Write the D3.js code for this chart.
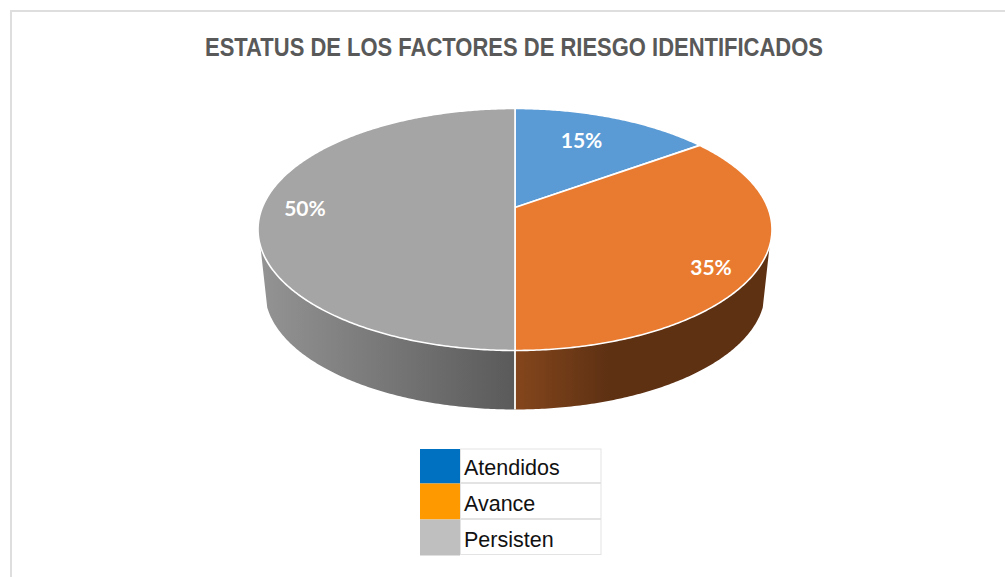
<!DOCTYPE html>
<html>
<head>
<meta charset="utf-8">
<script src="https://cdnjs.cloudflare.com/ajax/libs/d3/7.8.5/d3.min.js"></script>
<style>html,body{margin:0;padding:0;background:#fff}svg{display:block}</style>
</head>
<body>
<script>
// Data
const chartTitle = "ESTATUS DE LOS FACTORES DE RIESGO IDENTIFICADOS";
const categories = ["Atendidos", "Avance", "Persisten"];
const shares = [15, 35, 50];
const topColors = ["#5b9bd5", "#e97b30", "#a5a5a5"];
const legendColors = ["#0070c0", "#ff9900", "#bfbfbf"];

// Layout
const W = 1005, H = 577;
const svg = d3.select("body").append("svg").attr("width", W).attr("height", H);
const apex = {x: 515, y: 207.5};
const persp = 0.1818, ax = 252.7, ay = 117;
const ellipseMidY = 230, depthMidY = 292, rimScaleX = 0.973, rimScaleY = 0.975;

// Perspective projection of a unit-disc point (angle clockwise from 12 o'clock)
function project(theta, r = 1) {
  const x = r * Math.sin(theta), y = r * Math.cos(theta), d = 1 + persp * y;
  return [apex.x + ax * x / d, apex.y - ay * y / d];
}
function lowerRim(theta) {
  const [x, y] = project(theta);
  return [apex.x + (x - apex.x) * rimScaleX, depthMidY + (y - ellipseMidY) * rimScaleY];
}
function angles(a0, a1) {
  const n = Math.max(2, Math.ceil(Math.abs(a1 - a0) / 0.01));
  return d3.range(n + 1).map(i => a0 + (a1 - a0) * i / n);
}
const lineGen = d3.line();
const arcs = d3.pie().sort(null).value(d => d)(shares);

// Frame
svg.append("path").attr("d", d3.line()([[11, H], [11, 11], [W, 11]]))
  .attr("fill", "none").attr("stroke", "#dedede").attr("stroke-width", 2);

// Title
svg.append("text").attr("x", 514).attr("y", 56)
  .attr("text-anchor", "middle")
  .attr("font-family", "'Liberation Sans', Arial, sans-serif")
  .attr("font-weight", "700").attr("font-size", 26)
  .attr("textLength", 618).attr("lengthAdjust", "spacingAndGlyphs")
  .attr("fill", "#595959").text(chartTitle);

// Gradients for the side wall
const defs = svg.append("defs");
function gradient(id, x1, x2, stops) {
  const g = defs.append("linearGradient").attr("id", id)
    .attr("gradientUnits", "userSpaceOnUse")
    .attr("x1", x1).attr("x2", x2).attr("y1", 0).attr("y2", 0);
  stops.forEach(s => g.append("stop").attr("offset", s[0]).attr("stop-color", s[1]));
}
gradient("wallOrange", 515, 775, [[0, "#84461c"], [0.36, "#5e3113"], [1, "#5e3113"]]);
gradient("wallGray", 258, 515, [[0, "#949494"], [1, "#5a5a5a"]]);

// Side wall
const wallLimit = 108 * Math.PI / 180;
const wallSegments = [
  {i: 1, from: wallLimit, to: arcs[1].endAngle, fill: "url(#wallOrange)"},
  {i: 2, from: arcs[2].startAngle, to: 2 * Math.PI - wallLimit, fill: "url(#wallGray)"}
];
svg.append("g").selectAll("path").data(wallSegments).join("path")
  .attr("d", d => {
    const a = angles(d.from, d.to);
    return lineGen(a.map(t => project(t)).concat(a.slice().reverse().map(lowerRim))) + "Z";
  })
  .attr("fill", d => d.fill);
svg.append("path")
  .attr("d", lineGen([project(arcs[1].endAngle), lowerRim(arcs[1].endAngle)]))
  .attr("stroke", "#fff").attr("stroke-width", 1.8).attr("fill", "none");

// Top face slices
svg.append("g").selectAll("path").data(arcs).join("path")
  .attr("d", d => lineGen([[apex.x, apex.y]].concat(angles(d.startAngle, d.endAngle).map(t => project(t)))) + "Z")
  .attr("fill", (d, i) => topColors[i])
  .attr("stroke", "#fff").attr("stroke-width", 1.6).attr("stroke-linejoin", "round");

// Slice labels
const labelOffsets = [{r: 0.70, da: -2.2}, {r: 0.85, da: 6.4}, {r: 0.83, da: -0.6}];
svg.append("g").selectAll("text").data(arcs).join("text")
  .each(function (d, i) {
    const m = (d.startAngle + d.endAngle) / 2 + labelOffsets[i].da * Math.PI / 180;
    const [x, y] = project(m, labelOffsets[i].r);
    d3.select(this).attr("x", x).attr("y", y).attr("dy", "0.36em");
  })
  .attr("text-anchor", "middle")
  .attr("font-family", "Lato, 'Open Sans', sans-serif")
  .attr("font-weight", "700").attr("font-size", 21)
  .attr("fill", "#fff").text(d => d.value + "%");

// Legend
const rowTops = [449, 483.5, 519.5], rowH = [34.5, 36, 36];
const legend = svg.append("g");
legend.append("g").selectAll("rect").data(categories).join("rect")
  .attr("x", 460.5).attr("y", (d, i) => rowTops[i]).attr("width", 140.5).attr("height", (d, i) => rowH[i] - 1)
  .attr("fill", "#fff").attr("stroke", "#e3e3e3").attr("stroke-width", 1);
legend.append("g").selectAll("rect").data(categories).join("rect")
  .attr("x", 420).attr("y", (d, i) => rowTops[i]).attr("width", 40).attr("height", (d, i) => rowH[i])
  .attr("fill", (d, i) => legendColors[i]);
legend.append("g").selectAll("text").data(categories).join("text")
  .attr("x", 464).attr("y", (d, i) => [475, 511, 547][i])
  .attr("font-family", "'Liberation Sans', Arial, sans-serif")
  .attr("font-size", 21.5).attr("fill", "#111").text(d => d);
</script>
</body>
</html>
